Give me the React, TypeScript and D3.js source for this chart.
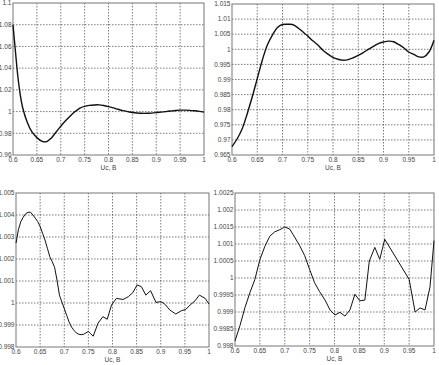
import * as d3 from 'd3';

// x ticks shared by all four panels
const xTicks = [0.6, 0.65, 0.7, 0.75, 0.8, 0.85, 0.9, 0.95, 1];
const xLabel = 'Uc, B';

// panel 1 (top left)
const xs1 = [0.6, 0.605, 0.61, 0.615, 0.62, 0.63, 0.64, 0.65, 0.66, 0.67, 0.68, 0.69, 0.7, 0.71, 0.72, 0.73, 0.74, 0.75, 0.76, 0.77, 0.78, 0.79, 0.8, 0.81, 0.82, 0.83, 0.84, 0.85, 0.86, 0.87, 0.88, 0.89, 0.9, 0.91, 0.92, 0.93, 0.94, 0.95, 0.96, 0.97, 0.98, 0.99, 1];
const ys1 = [1.08, 1.056, 1.033, 1.016, 1.004, 0.99, 0.981, 0.976, 0.9728, 0.9722, 0.9755, 0.981, 0.9865, 0.9915, 0.996, 1.0, 1.0032, 1.0048, 1.0057, 1.0061, 1.0062, 1.0056, 1.0046, 1.0034, 1.0021, 1.0009, 1.0, 0.9992, 0.9987, 0.9984, 0.9984, 0.9986, 0.999, 0.9995, 1.0, 1.0005, 1.001, 1.0013, 1.0013, 1.0011, 1.0007, 1.0002, 0.9995];
const yTicks1 = [0.96, 0.98, 1, 1.02, 1.04, 1.06, 1.08, 1.1];

// panel 2 (top right)
const xs2 = d3.range(41).map(i => 0.6 + i * 0.01);
const ys2 = [0.9678, 0.9703, 0.9736, 0.9786, 0.9842, 0.9903, 0.9964, 1.0014, 1.0047, 1.0072, 1.0082, 1.0083, 1.0082, 1.0072, 1.0058, 1.0044, 1.0028, 1.0014, 0.9997, 0.9984, 0.9973, 0.9967, 0.9964, 0.9966, 0.9972, 0.998, 0.9989, 1.0, 1.001, 1.0019, 1.0024, 1.0027, 1.0025, 1.0016, 1.0005, 0.9991, 0.9983, 0.9975, 0.9975, 0.9991, 1.003];
const yTicks2 = [0.965, 0.97, 0.975, 0.98, 0.985, 0.99, 0.995, 1, 1.005, 1.01, 1.015];

// panel 3 (bottom left)
const xs3 = [0.6, 0.605, 0.61, 0.615, 0.62, 0.625, 0.63, 0.635, 0.64, 0.645, 0.65, 0.655, 0.66, 0.665, 0.67, 0.675, 0.68, 0.685, 0.69, 0.695, 0.7, 0.705, 0.71, 0.715, 0.72, 0.725, 0.73, 0.735, 0.74, 0.745, 0.75, 0.755, 0.76, 0.77, 0.78, 0.789, 0.798, 0.808, 0.822, 0.833, 0.842, 0.851, 0.86, 0.869, 0.879, 0.89, 0.9, 0.907, 0.919, 0.931, 0.943, 0.952, 0.961, 0.971, 0.98, 0.992, 1];
const ys3 = [1.00272, 1.00333, 1.0037, 1.0039, 1.00406, 1.00412, 1.00413, 1.004, 1.00386, 1.0037, 1.00348, 1.00317, 1.00287, 1.00249, 1.00211, 1.00188, 1.00162, 1.00104, 1.00036, 1.00005, 0.99975, 0.99944, 0.99914, 0.99891, 0.99876, 0.99864, 0.99858, 0.99856, 0.99858, 0.99864, 0.99871, 0.9986, 0.99849, 0.99908, 0.99938, 0.99926, 0.99991, 1.00021, 1.00016, 1.00029, 1.00047, 1.00082, 1.00074, 1.00036, 1.00056, 1.00003, 1.00006, 0.99998, 0.99968, 0.9995, 0.99965, 0.99971, 0.99991, 1.0001, 1.00036, 1.00021, 0.99995];
const yTicks3 = [0.998, 0.999, 1, 1.001, 1.002, 1.003, 1.004, 1.005];

// panel 4 (bottom right)
const xs4 = [0.6, 0.61, 0.62, 0.63, 0.64, 0.65, 0.66, 0.67, 0.68, 0.69, 0.7, 0.71, 0.72, 0.73, 0.74, 0.75, 0.76, 0.77, 0.781, 0.791, 0.801, 0.811, 0.821, 0.831, 0.841, 0.851, 0.861, 0.87, 0.881, 0.891, 0.901, 0.95, 0.962, 0.972, 0.982, 0.992, 1];
const ys4 = [0.99815, 0.9986, 0.99913, 0.99957, 0.99996, 1.00054, 1.00093, 1.00123, 1.00136, 1.00142, 1.0015, 1.00144, 1.0012, 1.00095, 1.00066, 1.00025, 0.99986, 0.9996, 0.99935, 0.99906, 0.99891, 0.99899, 0.99888, 0.99906, 0.99952, 0.99933, 0.99935, 1.0005, 1.0009, 1.00055, 1.00114, 0.99996, 0.999, 0.99912, 0.99906, 0.99974, 1.0011];
const yTicks4 = [0.998, 0.9985, 0.999, 0.9995, 1, 1.0005, 1.001, 1.0015, 1.002, 1.0025];

const fmt = (v: number) => String(+v.toFixed(5));

interface PanelProps {
  box: { left: number; right: number; top: number; bottom: number };
  xs: number[];
  ys: number[];
  yTicks: number[];
  smooth: boolean;
  lineWidth: number;
}

const Panel = ({ box, xs, ys, yTicks, smooth, lineWidth }: PanelProps) => {
  const x = d3.scaleLinear().domain([0.6, 1]).range([box.left, box.right]);
  const y = d3.scaleLinear().domain([yTicks[0], yTicks[yTicks.length - 1]]).range([box.bottom, box.top]);
  const pts = xs.map((v, i) => [v, ys[i]] as [number, number]);
  const line = d3.line<[number, number]>()
    .x(d => x(d[0]))
    .y(d => y(d[1]))
    .curve(smooth ? d3.curveCatmullRom.alpha(0.5) : d3.curveLinear);

  return (
    <g>
      <rect x={box.left} y={box.top} width={box.right - box.left} height={box.bottom - box.top} fill="#fff" />
      {xTicks.slice(1, -1).map(t => (
        <line key={'gx' + t} x1={x(t)} x2={x(t)} y1={box.top} y2={box.bottom}
          stroke="#444" strokeWidth={0.7} strokeDasharray="1.5,1.5" />
      ))}
      {yTicks.slice(1, -1).map(t => (
        <line key={'gy' + t} x1={box.left} x2={box.right} y1={y(t)} y2={y(t)}
          stroke="#444" strokeWidth={0.7} strokeDasharray="1.5,1.5" />
      ))}
      <rect x={box.left} y={box.top} width={box.right - box.left} height={box.bottom - box.top}
        fill="none" stroke="#777" strokeWidth={1} />
      <path d={line(pts) || ''} fill="none" stroke="#111" strokeWidth={lineWidth} />
      {xTicks.map(t => (
        <text key={'tx' + t} x={x(t)} y={box.bottom + 7} textAnchor="middle" fontSize={6.5} fill="#444">{fmt(t)}</text>
      ))}
      {yTicks.map(t => (
        <text key={'ty' + t} x={box.left - 1.5} y={y(t)} dy="0.35em" textAnchor="end" fontSize={6.5} fill="#444">{fmt(t)}</text>
      ))}
      <text x={(box.left + box.right) / 2} y={box.bottom + 15} textAnchor="middle" fontSize={6.5} fill="#444">{xLabel}</text>
    </g>
  );
};

export default function App() {
  return (
    <svg width={439} height={365} style={{ position: 'absolute', left: 0, top: 0, background: '#fff' }}
      fontFamily="'Liberation Sans', Arial, sans-serif">
      <Panel box={{ left: 13, right: 204, top: 3, bottom: 155 }} xs={xs1} ys={ys1} yTicks={yTicks1} smooth lineWidth={1.4} />
      <Panel box={{ left: 232, right: 434, top: 4, bottom: 155 }} xs={xs2} ys={ys2} yTicks={yTicks2} smooth lineWidth={1.4} />
      <Panel box={{ left: 16, right: 209, top: 193, bottom: 347 }} xs={xs3} ys={ys3} yTicks={yTicks3} smooth={false} lineWidth={1} />
      <Panel box={{ left: 235, right: 434, top: 193, bottom: 346 }} xs={xs4} ys={ys4} yTicks={yTicks4} smooth={false} lineWidth={1} />
    </svg>
  );
}
